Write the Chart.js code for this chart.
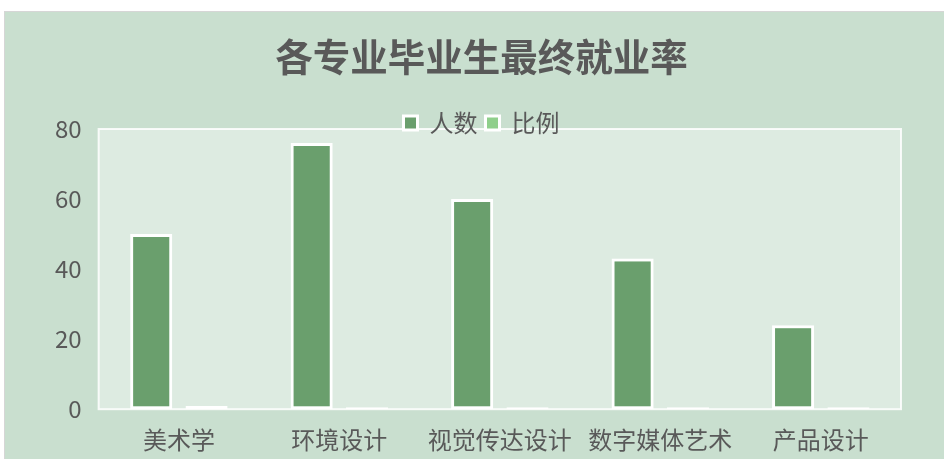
<!DOCTYPE html>
<html>
<head>
<meta charset="utf-8">
<script src="https://cdn.jsdelivr.net/npm/chart.js@4"></script>
<style>
  html, body { margin: 0; padding: 0; background: #ffffff; }
  #frame {
    position: absolute; left: 4px; top: 11px; width: 940px; height: 448px;
    background: #c9dfcf; border-top: 1px solid #d6d6d6; border-left: 1px solid #d6d6d6;
    box-sizing: border-box; overflow: hidden;
  }
  canvas { display: block; }
</style>
</head>
<body>
<div id="frame"><canvas id="chart" width="939" height="447"></canvas></div>
<script>
const majors = ['美术学', '环境设计', '视觉传达设计', '数字媒体艺术', '产品设计'];
const counts = [50, 76, 60, 43, 24];   // 人数
const ratios = [0.9, 0.55, 0.55, 0.55, 0.55];  // 比例
const yTicks = [0, 20, 40, 60, 80];

const textColor = '#595959';
const cjk = "'Noto Sans CJK SC', 'Noto Sans', sans-serif";

// lighter plot area with a white edge, like the source
const plotBackground = {
  id: 'plotBackground',
  beforeDraw(chart) {
    const { ctx, chartArea: a } = chart;
    ctx.save();
    ctx.fillStyle = 'rgba(255, 255, 255, 0.38)';
    ctx.fillRect(a.left, a.top, a.right - a.left, a.bottom - a.top);
    ctx.strokeStyle = 'rgba(255, 255, 255, 0.85)';
    ctx.lineWidth = 2;
    ctx.strokeRect(a.left, a.top, a.right - a.left, a.bottom - a.top);
    ctx.restore();
  }
};

// title and legend sit a bit right, and the legend overlaps the plot's top edge
const headerShift = {
  id: 'headerShift',
  afterLayout(chart) {
    const dx = 12, dy = 16;
    chart.titleBlock.left += dx;
    chart.titleBlock.right += dx;
    chart.legend.left += dx;
    chart.legend.right += dx;
    chart.legend.top += dy;
    chart.legend.bottom += dy;
  }
};

new Chart(document.getElementById('chart'), {
  type: 'bar',
  data: {
    labels: majors,
    datasets: [{
      label: '人数',
      data: counts,
      backgroundColor: '#6a9f6d',
      borderColor: '#ffffff',
      borderWidth: 3,
      borderSkipped: false
    }, {
      label: '比例',
      data: ratios,
      backgroundColor: '#8fcf8b',
      borderColor: '#ffffff',
      borderWidth: 3,
      borderSkipped: false
    }]
  },
  options: {
    responsive: false,
    animation: false,
    categoryPercentage: 0.69,
    barPercentage: 0.76,
    layout: { padding: { top: 10, left: 33, right: 43, bottom: -11 } },
    plugins: {
      title: {
        display: true,
        text: '各专业毕业生最终就业率',
        color: textColor,
        font: { family: cjk, size: 37.5, weight: 'bold' },
        padding: { top: 12, bottom: 8 }
      },
      legend: {
        display: true,
        labels: {
          color: textColor,
          font: { family: cjk, size: 24 },
          boxWidth: 14,
          boxHeight: 14,
          padding: 8,
          useBorderRadius: false
        }
      },
      tooltip: { enabled: false }
    },
    scales: {
      x: {
        grid: { display: false, drawTicks: false },
        border: { display: false },
        ticks: {
          color: textColor,
          font: { family: cjk, size: 24 },
          padding: 16,
          maxRotation: 0
        }
      },
      y: {
        min: 0,
        max: 80,
        grid: { display: false, drawTicks: false },
        border: { display: false },
        afterBuildTicks(axis) {
          axis.ticks = yTicks.map(v => ({ value: v }));
        },
        ticks: {
          color: textColor,
          font: { family: cjk, size: 24 },
          padding: 17
        }
      }
    }
  },
  plugins: [plotBackground, headerShift]
});
</script>
</body>
</html>
